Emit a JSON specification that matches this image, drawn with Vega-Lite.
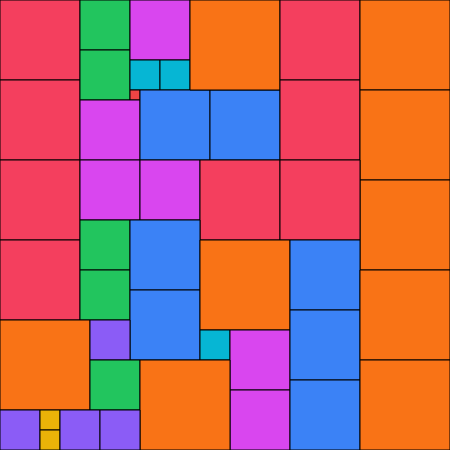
{
  "$schema": "https://vega.github.io/schema/vega-lite/v6.json",
  "width": 450,
  "height": 450,
  "autosize": {"type": "none"},
  "padding": 0,
  "background": "white",
  "config": {"view": {"stroke": null}},
  "data": {"values": [
    {"x0": 0, "x1": 80, "y0": 0, "y1": 80, "c": "rose"},
    {"x0": 0, "x1": 80, "y0": 80, "y1": 160, "c": "rose"},
    {"x0": 0, "x1": 80, "y0": 160, "y1": 240, "c": "rose"},
    {"x0": 0, "x1": 80, "y0": 240, "y1": 320, "c": "rose"},
    {"x0": 80, "x1": 130, "y0": 0, "y1": 50, "c": "green"},
    {"x0": 80, "x1": 130, "y0": 50, "y1": 100, "c": "green"},
    {"x0": 130, "x1": 190, "y0": 0, "y1": 60, "c": "fuchsia"},
    {"x0": 130, "x1": 160, "y0": 60, "y1": 90, "c": "cyan"},
    {"x0": 160, "x1": 190, "y0": 60, "y1": 90, "c": "cyan"},
    {"x0": 130, "x1": 140, "y0": 90, "y1": 100, "c": "red"},
    {"x0": 80, "x1": 140, "y0": 100, "y1": 160, "c": "fuchsia"},
    {"x0": 140, "x1": 210, "y0": 90, "y1": 160, "c": "blue"},
    {"x0": 210, "x1": 280, "y0": 90, "y1": 160, "c": "blue"},
    {"x0": 190, "x1": 280, "y0": 0, "y1": 90, "c": "orange"},
    {"x0": 280, "x1": 360, "y0": 0, "y1": 80, "c": "rose"},
    {"x0": 280, "x1": 360, "y0": 80, "y1": 160, "c": "rose"},
    {"x0": 360, "x1": 450, "y0": 0, "y1": 90, "c": "orange"},
    {"x0": 360, "x1": 450, "y0": 90, "y1": 180, "c": "orange"},
    {"x0": 360, "x1": 450, "y0": 180, "y1": 270, "c": "orange"},
    {"x0": 80, "x1": 140, "y0": 160, "y1": 220, "c": "fuchsia"},
    {"x0": 140, "x1": 200, "y0": 160, "y1": 220, "c": "fuchsia"},
    {"x0": 200, "x1": 280, "y0": 160, "y1": 240, "c": "rose"},
    {"x0": 280, "x1": 360, "y0": 160, "y1": 240, "c": "rose"},
    {"x0": 80, "x1": 130, "y0": 220, "y1": 270, "c": "green"},
    {"x0": 80, "x1": 130, "y0": 270, "y1": 320, "c": "green"},
    {"x0": 130, "x1": 200, "y0": 220, "y1": 290, "c": "blue"},
    {"x0": 130, "x1": 200, "y0": 290, "y1": 360, "c": "blue"},
    {"x0": 200, "x1": 290, "y0": 240, "y1": 330, "c": "orange"},
    {"x0": 200, "x1": 230, "y0": 330, "y1": 360, "c": "cyan"},
    {"x0": 230, "x1": 290, "y0": 330, "y1": 390, "c": "fuchsia"},
    {"x0": 230, "x1": 290, "y0": 390, "y1": 450, "c": "fuchsia"},
    {"x0": 290, "x1": 360, "y0": 240, "y1": 310, "c": "blue"},
    {"x0": 290, "x1": 360, "y0": 310, "y1": 380, "c": "blue"},
    {"x0": 290, "x1": 360, "y0": 380, "y1": 450, "c": "blue"},
    {"x0": 360, "x1": 450, "y0": 270, "y1": 360, "c": "orange"},
    {"x0": 360, "x1": 450, "y0": 360, "y1": 450, "c": "orange"},
    {"x0": 0, "x1": 90, "y0": 320, "y1": 410, "c": "orange"},
    {"x0": 90, "x1": 130, "y0": 320, "y1": 360, "c": "violet"},
    {"x0": 90, "x1": 140, "y0": 360, "y1": 410, "c": "green"},
    {"x0": 140, "x1": 230, "y0": 360, "y1": 450, "c": "orange"},
    {"x0": 0, "x1": 40, "y0": 410, "y1": 450, "c": "violet"},
    {"x0": 40, "x1": 60, "y0": 410, "y1": 430, "c": "yellow"},
    {"x0": 40, "x1": 60, "y0": 430, "y1": 450, "c": "yellow"},
    {"x0": 60, "x1": 100, "y0": 410, "y1": 450, "c": "violet"},
    {"x0": 100, "x1": 140, "y0": 410, "y1": 450, "c": "violet"}
  ]},
  "mark": {"type": "rect", "stroke": "#000000", "strokeWidth": 1, "opacity": 1},
  "encoding": {
    "x": {"field": "x0", "type": "quantitative", "scale": {"domain": [0, 450], "nice": false, "zero": false}, "axis": null},
    "x2": {"field": "x1"},
    "y": {"field": "y0", "type": "quantitative", "scale": {"domain": [0, 450], "nice": false, "zero": false, "reverse": true}, "axis": null},
    "y2": {"field": "y1"},
    "color": {
      "field": "c", "type": "nominal", "legend": null,
      "scale": {
        "domain": ["rose", "green", "fuchsia", "cyan", "red", "blue", "orange", "violet", "yellow"],
        "range": ["#f43f5e", "#22c55e", "#d946ef", "#06b6d4", "#ef4444", "#3b82f6", "#f97316", "#8b5cf6", "#eab308"]
      }
    }
  }
}
